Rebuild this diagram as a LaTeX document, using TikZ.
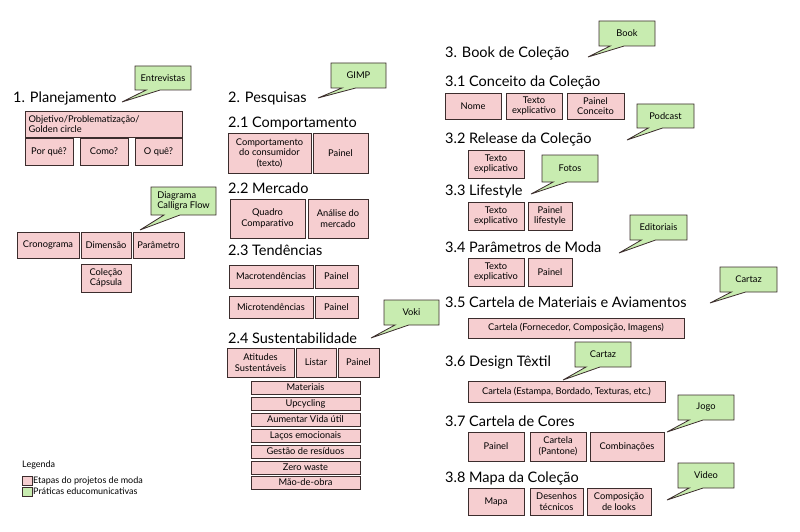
\documentclass[tikz,border=0pt]{standalone}
\usepackage{fontspec}
\setmainfont{Lato}
\definecolor{pk}{RGB}{246,206,208}
\definecolor{gr}{RGB}{200,236,176}
\definecolor{bd}{RGB}{60,45,45}
\newcommand\bx[6]{\node[box,minimum width=#4-#2,minimum height=#5-#3] (#1) at ({(#2+#4)/2},{(#3+#5)/2}) {#6};}
\newcommand\co[7]{%
 \filldraw[fill=gr,draw=bd,line width=0.8pt] (#2,#3) -- (#4,#3) -- (#4,#5) -- ({#2+0.45*(#4-#2)},#5) -- (#6,#7) -- ({#2+0.2*(#4-#2)},#5) -- (#2,#5) -- cycle;
 \node[ctext] (#1) at ({(#2+#4)/2},{(#3+#5)/2}) {#1};}
\begin{document}
\begin{tikzpicture}[x=1pt,y=-1pt,
 box/.style={draw=bd,fill=pk,line width=0.9pt,inner sep=0pt,align=center,font=\fontsize{9.3}{10.5}\selectfont},
 ctext/.style={font=\fontsize{9.3}{10.5}\selectfont},
 hd/.style={anchor=west,inner sep=0pt,font=\fontsize{14.5}{16}\selectfont}]
\useasboundingbox (0,0) rectangle (800,532);
% column 1
\node[hd] (h1) at (13,98) {1. Planejamento};
\co{Entrevistas}{135}{66}{191}{90}{122}{102}
\bx{ob}{25}{111}{182}{137}{\parbox{150pt}{Objetivo/Problematização/\\Golden circle}}
\bx{pq}{25}{138}{73}{165}{Por quê?}
\bx{cm}{80}{138}{128}{165}{Como?}
\bx{oq}{135}{138}{182}{165}{O quê?}
\filldraw[fill=gr,draw=bd,line width=0.8pt] (151,187) -- (216,187) -- (216,215) -- (180,215) -- (140,230) -- (164,215) -- (151,215) -- cycle;
\node[ctext,align=left] (dcf) at (183.5,201) {Diagrama\\Calligra Flow};
\bx{cr}{17}{232}{79}{258}{Cronograma}
\bx{dm}{81}{232}{131}{258}{Dimensão}
\bx{pa}{133}{232}{184}{258}{Parâmetro}
\bx{cc}{81}{264}{131}{292}{Coleção\\Cápsula}
\node[anchor=west,inner sep=0pt,font=\fontsize{9}{10}\selectfont] (lg) at (22,465) {Legenda};
\draw[fill=pk,draw=bd] (22,476) rectangle (32,485);
\draw[fill=gr,draw=bd] (22,487) rectangle (32,496);
\node[anchor=west,inner sep=0pt,font=\fontsize{9}{10}\selectfont] (l1) at (33,480.5) {Etapas do projetos de moda};
\node[anchor=west,inner sep=0pt,font=\fontsize{9}{10}\selectfont] (l2) at (33,491.5) {Práticas educomunicativas};
% column 2
\node[hd] (h2) at (228,98) {2. Pesquisas};
\co{GIMP}{331}{63}{386}{88}{318}{98}
\node[hd] (h21) at (228,123) {2.1 Comportamento};
\bx{cdc}{228}{133}{311}{173}{Comportamento\\do consumidor\\(texto)}
\bx{p21}{313}{133}{368}{173}{Painel}
\node[hd] (h22) at (228,188) {2.2 Mercado};
\bx{qc}{230}{199}{305}{238}{Quadro\\Comparativo}
\bx{am}{308}{199}{368}{238}{Análise do\\mercado}
\node[hd] (h23) at (228,250) {2.3 Tendências};
\bx{ma}{229}{265}{313}{288}{Macrotendências}
\bx{p23a}{315}{265}{358}{288}{Painel}
\bx{mi}{229}{296}{313}{318}{Microtendências}
\bx{p23b}{315}{296}{358}{318}{Painel}
\co{Voki}{384}{300}{439}{325}{371}{338}
\node[hd] (h24) at (228,338) {2.4 Sustentabilidade};
\bx{at}{227}{348}{294}{377}{Atitudes\\Sustentáveis}
\bx{li}{296}{348}{336}{377}{Listar}
\bx{p24}{338}{348}{379}{377}{Painel}
\bx{s1}{251}{381}{360}{394}{Materiais}
\bx{s2}{251}{397}{360}{410}{Upcycling}
\bx{s3}{251}{413}{360}{426}{Aumentar Vida útil}
\bx{s4}{251}{429}{360}{442}{Laços emocionais}
\bx{s5}{251}{445}{360}{458}{Gestão de resíduos}
\bx{s6}{251}{461}{360}{474}{Zero waste}
\bx{s7}{251}{476}{360}{489}{Mão-de-obra}
% column 3
\node[hd] (h3) at (445,53) {3. Book de Coleção};
\co{Book}{599}{21}{655}{46}{588}{57}
\node[hd] (h31) at (445,82) {3.1 Conceito da Coleção};
\bx{no}{445}{93}{501}{119}{Nome}
\bx{te1}{506}{93}{562}{119}{Texto\\explicativo}
\bx{pc}{567}{93}{624}{119}{Painel\\Conceito}
\co{Podcast}{637}{104}{694}{128}{627}{140}
\node[hd] (h32) at (445,139) {3.2 Release da Coleção};
\bx{te2}{468}{150}{524}{178}{Texto\\explicativo}
\co{Fotos}{542}{155}{598}{182}{531}{194}
\node[hd] (h33) at (445,191) {3.3 Lifestyle};
\bx{te3}{468}{202}{524}{230}{Texto\\explicativo}
\bx{pl}{528}{202}{572}{230}{Painel\\lifestyle}
\co{Editoriais}{630}{215}{687}{240}{619}{253}
\node[hd] (h34) at (445,247) {3.4 Parâmetros de Moda};
\bx{te4}{468}{258}{524}{286}{Texto\\explicativo}
\bx{p34}{528}{258}{572}{286}{Painel}
\co{Cartaz}{720}{267}{777}{292}{710}{303}
\node[hd] (h35) at (445,302) {3.5 Cartela de Materiais e Aviamentos};
\bx{c35}{468}{318}{684}{338}{Cartela (Fornecedor, Composição, Imagens)}
\filldraw[fill=gr,draw=bd,line width=0.8pt] (575,342) -- (631,342) -- (631,367) -- (600,367) -- (563,380) -- (586,367) -- (575,367) -- cycle;
\node[ctext] (cartaz2) at (603,354.5) {Cartaz};
\node[hd] (h36) at (445,362) {3.6 Design Têxtil};
\bx{c36}{468}{381}{665}{402}{Cartela (Estampa, Bordado, Texturas, etc.)}
\co{Jogo}{678}{395}{734}{420}{667}{432}
\node[hd] (h37) at (445,421) {3.7 Cartela de Cores};
\bx{p37}{468}{432}{524}{461}{Painel}
\bx{cp}{530}{432}{586}{461}{Cartela\\(Pantone)}
\bx{cb}{590}{432}{664}{461}{Combinações}
\co{Video}{678}{463}{734}{488}{667}{500}
\node[hd] (h38) at (445,478) {3.8 Mapa da Coleção};
\bx{mp}{468}{488}{524}{515}{Mapa}
\bx{dt}{530}{488}{583}{515}{Desenhos\\técnicos}
\bx{cl}{587}{488}{651}{515}{Composição\\de looks}
\end{tikzpicture}
\end{document}
